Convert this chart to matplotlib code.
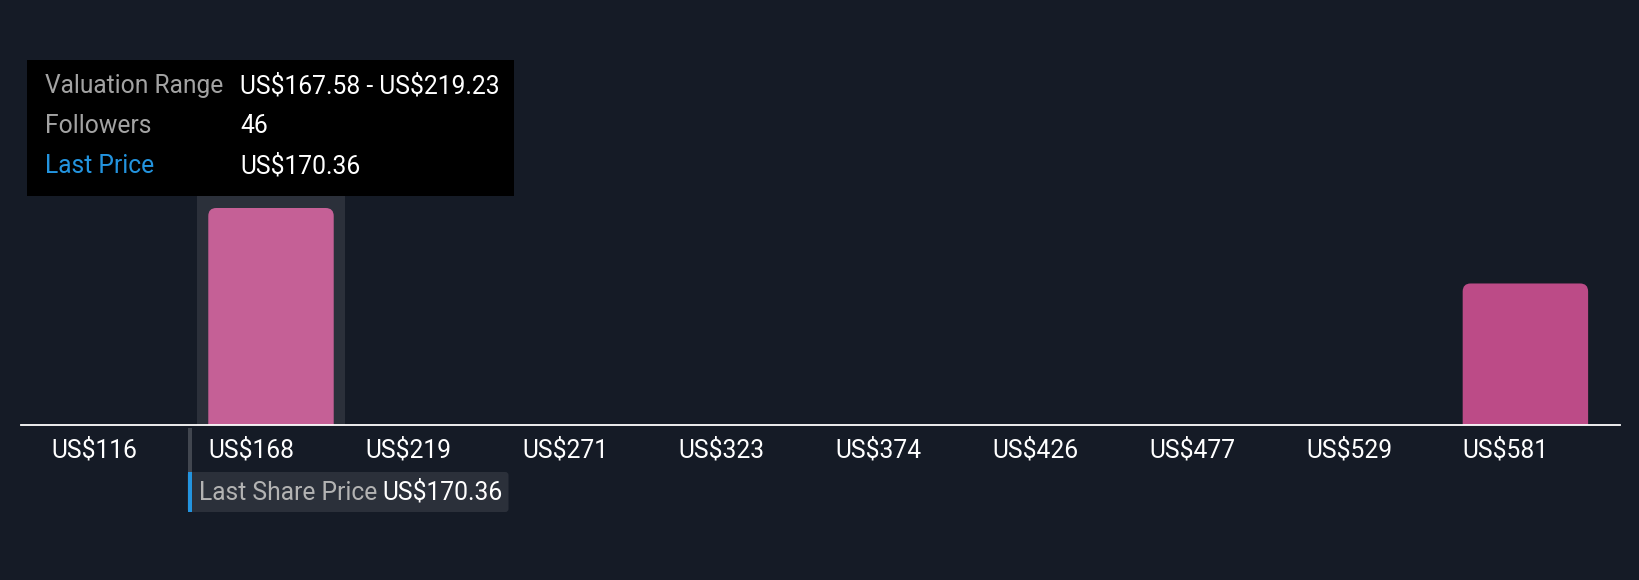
import numpy as np
import matplotlib
matplotlib.use('Agg')
import matplotlib.pyplot as plt
from matplotlib.patches import FancyBboxPatch, Rectangle
from matplotlib.transforms import blended_transform_factory

plt.rcParams['font.family'] = ['Roboto', 'DejaVu Sans']
plt.rcParams['text.parse_math'] = False

# bins of the valuation histogram (US$)
bin_lo = [115.93, 167.58, 219.23, 270.88, 322.53, 374.18, 425.83, 477.48, 529.13, 580.78]
bin_hi = 632.43
followers = [0, 46, 0, 0, 0, 0, 0, 0, 0, 30]
tick_labels = ['US$116', 'US$168', 'US$219', 'US$271', 'US$323',
               'US$374', 'US$426', 'US$477', 'US$529', 'US$581']
last_price = 170.36
hover_bin = 1

tip_rows = [('Valuation Range', 'US$167.58 - US$219.23'),
            ('Followers', '46'),
            ('Last Price', 'US$170.36')]

BG = '#151b26'
W, H = 1640, 580
FS = 17.7

def fx(px):
    return px / W

def fy(py):
    return 1 - py / H

fig = plt.figure(figsize=(W / 100, H / 100), dpi=100, facecolor=BG)
# plot area: 21..1620 px wide, 60..425 px from top
ax_l, ax_r, ax_t, ax_b = 21, 1620, 60, 425
ax = fig.add_axes([fx(ax_l), fy(ax_b), (ax_r - ax_l) / W, (ax_b - ax_t) / H])
ax.set_facecolor(BG)
for s in ax.spines.values():
    s.set_visible(False)
ax.set_xticks([])
ax.set_yticks([])

n = len(followers)
x = np.arange(n)
px_unit = 156.8  # pixels per bin
x0 = -(114.2 - ax_l) / px_unit
x1 = x0 + (ax_r - ax_l) / px_unit
ax.set_xlim(x0, x1)
ymax = max(followers) * (ax_b - ax_t) / 217.0
ax.set_ylim(0, ymax)

# hover band
ax.axvspan(hover_bin - 0.475, hover_bin + 0.475, color='#2b303a', zorder=0, lw=0)

# rounded bars
r_px = 8
ypp = ymax / (ax_b - ax_t)
xpp = 1 / px_unit
aspect = ypp / xpp
for i, v in enumerate(followers):
    if v <= 0:
        continue
    col = '#c56096' if i == hover_bin else '#bc4b87'
    p = FancyBboxPatch((x[i] - 0.4, -r_px * ypp), 0.8, v + r_px * ypp,
                       boxstyle='round,pad=0,rounding_size=%f' % (r_px * xpp),
                       mutation_aspect=aspect, fc=col, ec='none', zorder=2)
    ax.add_patch(p)

ax.axhline(0, color='white', lw=1.3, clip_on=False, zorder=3)

# x tick labels, left aligned on bar edge
for i, lab in enumerate(tick_labels):
    ax.annotate(lab, xy=(x[i] - 0.4, 0), xytext=(0, -32), textcoords='offset pixels',
                ha='left', va='baseline', color='white', fontsize=FS,
                annotation_clip=False)

# last share price marker (linear position across plot width)
px_x = x0 + (last_price - bin_lo[0]) / (bin_hi - bin_lo[0]) * (x1 - x0)
bt = blended_transform_factory(ax.transData, fig.transFigure)
fig.add_artist(Rectangle((px_x - 2 * xpp, fy(472)), 4 * xpp, fy(428) - fy(472),
                         transform=bt, fc='#41464f', ec='none'))
fig.add_artist(FancyBboxPatch((px_x - 2 * xpp, fy(512)), 321 * xpp, fy(472) - fy(512),
                              boxstyle='round,pad=0,rounding_size=0.02',
                              mutation_aspect=(1 / H) / xpp,
                              transform=bt, fc='#2b303a', ec='none'))
fig.add_artist(Rectangle((px_x - 2 * xpp, fy(512)), 4 * xpp, fy(472) - fy(512),
                         transform=bt, fc='#2394df', ec='none'))
fig.text(px_x + 9 * xpp, fy(500), 'Last Share Price', transform=bt,
         color='#b3b3b3', fontsize=FS, va='baseline')
fig.text(px_x + 193 * xpp, fy(500), 'US$%.2f' % last_price, transform=bt,
         color='white', fontsize=FS, va='baseline')

# tooltip
fig.add_artist(Rectangle((fx(27), fy(196)), fx(514) - fx(27), fy(60) - fy(196),
                         transform=fig.transFigure, fc='black', ec='none'))
for k, (lab, val) in enumerate(tip_rows):
    yb = fy(93 + 40 * k)
    lc = '#2394df' if lab == 'Last Price' else '#a3a3a3'
    fig.text(fx(45), yb, lab, color=lc, fontsize=FS, va='baseline')
    fig.text(fx(240), yb, val, color='white', fontsize=FS, va='baseline')

fig.savefig('out.png', dpi=100, facecolor=BG)
